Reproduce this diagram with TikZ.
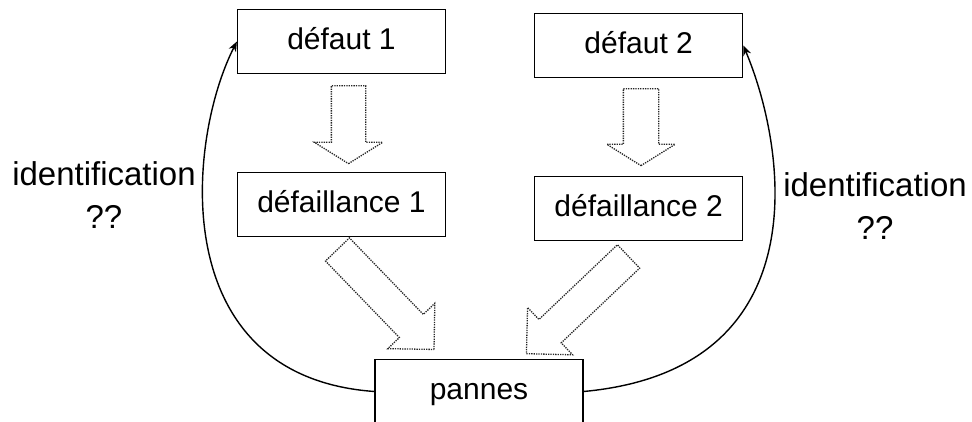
\documentclass[tikz,border=0pt]{standalone}
\usepackage{fontspec}
\setmainfont{Liberation Sans}
\usetikzlibrary{positioning,shapes.arrows,arrows.meta}

\begin{document}
\begin{tikzpicture}[x=1pt,y=1pt,>={Stealth[length=10pt,width=8pt]},
    boite/.style={draw,line width=1.2pt,minimum width=208pt,minimum height=64pt,inner sep=0pt,text height=22pt,text depth=6pt,font=\fontsize{30}{36}\selectfont},
    fleche/.style={single arrow,draw=black!85,dash pattern=on 1.3pt off 1.1pt,line width=1.3pt,inner xsep=0pt,anchor=tail},
    etiquette/.style={align=center,font=\fontsize{33}{43}\selectfont},
    retour/.style={->,line width=1.4pt}]

    \useasboundingbox (0,0) rectangle (972,-421);

    \node[boite] (def1) at (341.5,-41.5) {défaut 1};
    \node[boite] (def2) [right=88pt of def1, yshift=-4pt] {défaut 2};
    \node[boite] (dfl1) [below=98pt of def1] {défaillance 1};
    \node[boite] (dfl2) [below=98pt of def2] {défaillance 2};
    \node[boite] (pannes) at (479,-391.5) {pannes};

    \node[fleche, rotate=-90, minimum height=78pt, inner ysep=16.5pt, single arrow head extend=17pt, single arrow tip angle=116] (f1) at (348.5,-85) {};
    \node[fleche, rotate=-90, minimum height=77pt, inner ysep=17pt, single arrow head extend=16.5pt, single arrow tip angle=116] (f2) at (641,-88) {};
    \node[fleche, rotate=-46, minimum height=139pt, inner ysep=16pt, single arrow head extend=16pt] (f3) at (337,-249) {};
    \node[fleche, rotate=-136.4, minimum height=141pt, inner ysep=15.5pt, single arrow head extend=16.5pt] (f4) at (629,-256) {};

    \draw[retour] (pannes.west) .. controls +(-210,15) and +(-50,-98) .. (def1.west);
    \draw[retour] (pannes.east) .. controls +(238,22) and +(43,-102) .. (def2.east);

    \node[etiquette] (id1) at (104,-195) {identification\\??};
    \node[etiquette] (id2) at (875,-206) {identification\\??};
\end{tikzpicture}
\end{document}
